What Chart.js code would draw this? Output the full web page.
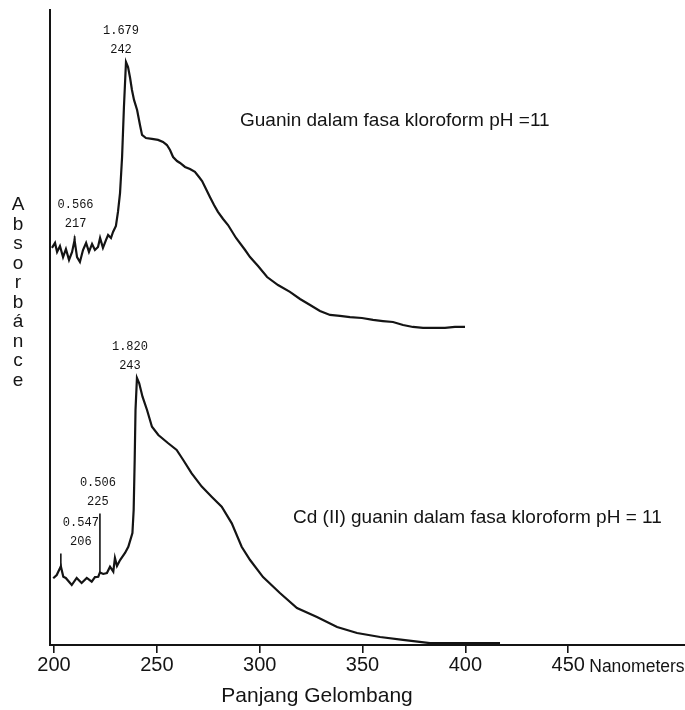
<!DOCTYPE html>
<html>
<head>
<meta charset="utf-8">
<script src="https://cdn.jsdelivr.net/npm/chart.js@4.4.0/dist/chart.umd.min.js"></script>
<style>
  html, body { margin: 0; padding: 0; background: #fff; }
  #wrap { width: 685px; height: 710px; }
</style>
</head>
<body>
<div id="wrap"><canvas id="spectra" width="685" height="710"></canvas></div>
<script>
// UV spectra of guanine (upper trace) and Cd(II)-guanine (lower trace) in chloroform, pH 11.
// Each trace is stored in its own wavelength (nm) / absorbance units.

const guaninNm = [206.0, 207.5, 208.5, 209.9, 211.4, 212.8, 214.3, 215.8, 217, 218.2,
  219.6, 221.1, 222.6, 224.0, 225.5, 226.9, 228.4, 229.4, 230.8, 232.3,
  233.3, 234.7, 235.7, 237.1, 238.1, 239.1, 240.1, 241.0, 242, 243.0,
  244.0, 244.9, 245.9, 247.4, 248.8, 249.8, 251.7, 254.6, 257.6, 260.0,
  261.9, 263.4, 264.9, 266.8, 268.3, 270.7, 273.1, 275.5, 277.5, 279.0,
  280.9, 282.8, 284.8, 286.7, 289.2, 291.6, 295.5, 299.9, 302.3, 306.2,
  310.6, 315.9, 321.7, 326.6, 331.5, 336.3, 341.2, 346.0, 350.9, 356.7,
  362.1, 366.9, 371.8, 376.7, 381.5, 386.4, 391.3, 397.1, 401.9, 406.8];
const guaninAbs = [0.517, 0.548, 0.492, 0.529, 0.460, 0.510, 0.442, 0.492, 0.566, 0.460,
  0.429, 0.504, 0.548, 0.492, 0.542, 0.504, 0.523, 0.579, 0.517, 0.567,
  0.598, 0.579, 0.617, 0.654, 0.742, 0.860, 1.085, 1.398, 1.679, 1.648,
  1.579, 1.504, 1.442, 1.379, 1.285, 1.223, 1.204, 1.198, 1.192, 1.179,
  1.160, 1.129, 1.085, 1.060, 1.048, 1.023, 1.010, 0.992, 0.960, 0.935,
  0.885, 0.835, 0.785, 0.742, 0.698, 0.660, 0.579, 0.504, 0.460, 0.404,
  0.335, 0.285, 0.242, 0.198, 0.160, 0.123, 0.098, 0.092, 0.085, 0.079,
  0.067, 0.060, 0.054, 0.035, 0.023, 0.017, 0.017, 0.017, 0.023, 0.023];

const cdGuaninNm = [202.3, 204.0, 206, 207.2, 208.4, 211.3, 213.7, 216.1, 218.6, 221.0,
  222.6, 224.2, 225, 226.6, 228.4, 229.9, 231.5, 232.3, 233.3, 234.8,
  237.2, 238.8, 240.8, 241.4, 241.9, 242.3, 243, 244.1, 245.7, 247.9,
  250.3, 253.4, 258.2, 262.3, 265.5, 269.6, 274.5, 279.3, 284.2, 289.1,
  293.9, 298.0, 304.3, 312.5, 320.8, 330.5, 340.3, 350.0, 361.2, 372.3,
  385.5, 398.6, 411.2, 419.5];
const cdGuaninAbs = [0.467, 0.489, 0.547, 0.477, 0.469, 0.421, 0.469, 0.435, 0.469, 0.444,
  0.475, 0.477, 0.506, 0.496, 0.502, 0.545, 0.511, 0.604, 0.550, 0.590,
  0.638, 0.680, 0.773, 0.928, 1.266, 1.604, 1.820, 1.784, 1.694, 1.604,
  1.491, 1.435, 1.379, 1.334, 1.266, 1.176, 1.086, 1.018, 0.950, 0.838,
  0.680, 0.590, 0.475, 0.367, 0.266, 0.205, 0.138, 0.097, 0.070, 0.050,
  0.029, 0.029, 0.029, 0.029];

// Peaks picked by the spectrophotometer
const guaninPeakNm = [217, 242];
const guaninPeakAbs = [0.566, 1.679];
const cdGuaninPeakNm = [206, 225, 243];
const cdGuaninPeakAbs = [0.547, 0.506, 1.820];

const xTickValues = [200, 250, 300, 350, 400, 450];

const guaninTitle = 'Guanin dalam fasa kloroform pH =11';
const cdGuaninTitle = 'Cd (II) guanin dalam fasa kloroform pH = 11';
const xTitle = 'Panjang Gelombang';
const xUnit = 'Nanometers';
const yTitle = 'Absorbánce';

// label placement for each picked peak: marker line length above the point, horizontal shift of the text
const guaninPeakStyle = [{ line: 4, dx: 1 }, { line: 0, dx: -5 }];
const cdGuaninPeakStyle = [{ line: 13, dx: 20 }, { line: 59, dx: -2 }, { line: 0, dx: -7 }];

const INK = '#141414';
const SANS = '"Liberation Sans", Arial, Helvetica, sans-serif';

function points(xs, ys) {
  return xs.map((x, i) => ({ x: x, y: ys[i] }));
}

const peakLabels = {
  id: 'peakLabels',
  afterDatasetsDraw(chart) {
    const ctx = chart.ctx;
    const groups = [
      { nm: guaninPeakNm, abs: guaninPeakAbs, style: guaninPeakStyle, xs: chart.scales.xUp, ys: chart.scales.yUp },
      { nm: cdGuaninPeakNm, abs: cdGuaninPeakAbs, style: cdGuaninPeakStyle, xs: chart.scales.xLo, ys: chart.scales.yLo }
    ];
    ctx.save();
    ctx.fillStyle = INK;
    ctx.strokeStyle = INK;
    ctx.lineWidth = 1.6;
    ctx.font = '12px "Liberation Mono", "DejaVu Sans Mono", monospace';
    ctx.textAlign = 'center';
    ctx.textBaseline = 'middle';
    groups.forEach(g => {
      g.nm.forEach((nm, i) => {
        const px = g.xs.getPixelForValue(nm);
        const py = g.ys.getPixelForValue(g.abs[i]);
        const st = g.style[i];
        const top = py - st.line;
        if (st.line > 0) {
          ctx.beginPath();
          ctx.moveTo(px, py);
          ctx.lineTo(px, top);
          ctx.stroke();
        }
        ctx.fillText(String(nm), px + st.dx, top - 12);
        ctx.fillText(g.abs[i].toFixed(3), px + st.dx, top - 31);
      });
    });
    ctx.restore();
  }
};

const annotations = {
  id: 'annotations',
  afterDraw(chart) {
    const ctx = chart.ctx;
    const xs = chart.scales.x;
    ctx.save();
    ctx.fillStyle = INK;

    // vertical axis title, one letter per line
    ctx.font = '19px ' + SANS;
    ctx.textAlign = 'center';
    ctx.textBaseline = 'middle';
    yTitle.split('').forEach((ch, i) => ctx.fillText(ch, 18, 205 + i * 19.5));

    // spectrum captions
    ctx.textAlign = 'left';
    ctx.textBaseline = 'alphabetic';
    ctx.font = '19px ' + SANS;
    ctx.fillText(guaninTitle, 240, 126);
    ctx.fillText(cdGuaninTitle, 293, 523);

    // unit after the last tick label
    ctx.font = '17.5px ' + SANS;
    ctx.fillText(xUnit, xs.getPixelForValue(450) + 21, 672);

    // horizontal axis title
    ctx.font = '21px ' + SANS;
    ctx.textAlign = 'center';
    ctx.fillText(xTitle, 317, 702);
    ctx.restore();
  }
};

new Chart(document.getElementById('spectra'), {
  type: 'line',
  data: {
    datasets: [
      {
        label: guaninTitle,
        data: points(guaninNm, guaninAbs),
        xAxisID: 'xUp', yAxisID: 'yUp',
        borderColor: INK, borderWidth: 2.2,
        pointRadius: 0, fill: false, tension: 0
      },
      {
        label: cdGuaninTitle,
        data: points(cdGuaninNm, cdGuaninAbs),
        xAxisID: 'xLo', yAxisID: 'yLo',
        borderColor: INK, borderWidth: 2.2,
        pointRadius: 0, fill: false, tension: 0
      }
    ]
  },
  options: {
    responsive: false,
    devicePixelRatio: 1,
    animation: false,
    events: [],
    layout: { padding: { left: 50, top: 10, right: 0, bottom: 0 } },
    plugins: { legend: { display: false }, tooltip: { enabled: false }, title: { display: false } },
    scales: {
      x: {
        type: 'linear', position: 'bottom',
        min: 198.055, max: 506.76,
        afterBuildTicks: s => { s.ticks = xTickValues.map(v => ({ value: v })); },
        afterFit: s => { s.height = 65; },
        ticks: {
          autoSkip: false, maxRotation: 0, padding: 0,
          color: INK, font: { family: SANS, size: 20 },
          callback: v => String(v)
        },
        grid: { display: true, drawOnChartArea: false, drawTicks: true, tickLength: 8, color: INK, lineWidth: 1.6 },
        border: { display: true, color: INK, width: 2 }
      },
      xUp: { type: 'linear', display: false, position: 'bottom', min: 205.056, max: 513.76 },
      xLo: { type: 'linear', display: false, position: 'bottom', min: 200.729, max: 509.43 },
      yUp: { type: 'linear', display: false, position: 'left', min: -1.9648, max: 2.004 },
      yLo: {
        type: 'linear', display: true, position: 'left', min: 0.0159, max: 4.3065,
        afterFit: s => { s.width = 0; },
        ticks: { display: false },
        grid: { display: false, drawTicks: false },
        border: { display: true, color: INK, width: 2 }
      }
    }
  },
  plugins: [peakLabels, annotations]
});
</script>
</body>
</html>
